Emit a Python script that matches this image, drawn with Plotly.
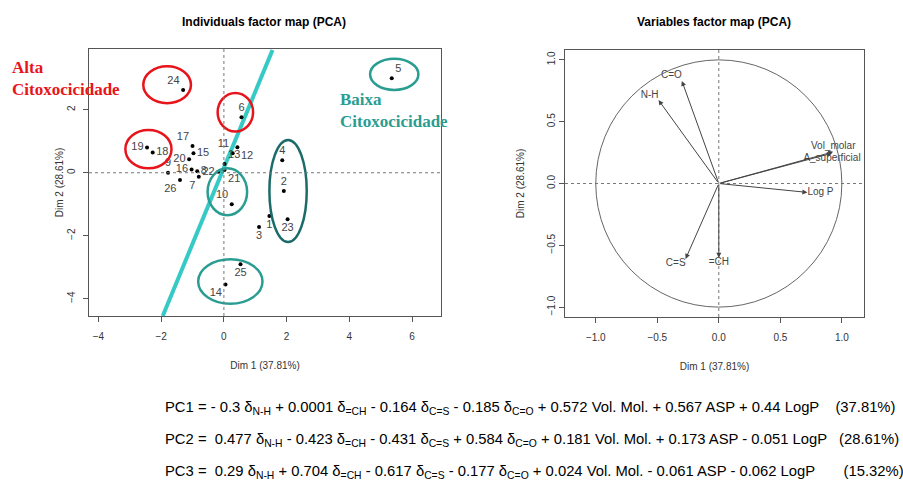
import plotly.graph_objects as go

# ---------------- data ----------------
ind_labels = ["1", "2", "3", "4", "5", "6", "7", "8", "9", "10", "11", "12", "13",
              "14", "15", "16", "17", "18", "19", "20", "21", "22", "23", "24", "25", "26"]
ind_dim1 = [1.45, 1.91, 1.12, 1.86, 5.35, 0.56, -0.80, -0.85, -1.78, 0.25, 0.28, 0.43, 0.02,
            0.05, -0.97, -1.03, -1.00, -2.27, -2.45, -1.11, 0.02, -0.18, 2.03, -1.30, 0.53, -1.40]
ind_dim2 = [-1.37, -0.58, -1.72, 0.40, 3.00, 1.76, -0.13, 0.05, 0.00, -1.00, 0.62, 0.81, 0.28,
            -3.55, 0.62, 0.10, 0.85, 0.64, 0.80, 0.43, 0.09, 0.03, -1.48, 2.63, -2.91, -0.23]

var_labels = ["N-H", "=CH", "C=S", "C=O", "Vol_molar", "A_superficial", "Log P"]
var_dim1 = [-0.49, 0.00, -0.27, -0.30, 0.93, 0.92, 0.72]
var_dim2 = [0.675, -0.60, -0.61, 0.83, 0.256, 0.245, -0.072]

x_ticks_ind = [-4, -2, 0, 2, 4, 6]
y_ticks_ind = [-4, -2, 0, 2]
ticks_var = [-1.0, -0.5, 0.0, 0.5, 1.0]

equations = [
    "PC1 = - 0.3 δ<sub>N-H</sub> + 0.0001 δ<sub>=CH</sub> - 0.164 δ<sub>C=S</sub> - 0.185 δ<sub>C=O</sub> + 0.572 Vol. Mol. + 0.567 ASP + 0.44 LogP    (37.81%)",
    "PC2 =  0.477 δ<sub>N-H</sub> - 0.423 δ<sub>=CH</sub> - 0.431 δ<sub>C=S</sub> + 0.584 δ<sub>C=O</sub> + 0.181 Vol. Mol. + 0.173 ASP - 0.051 LogP   (28.61%)",
    "PC3 =  0.29 δ<sub>N-H</sub> + 0.704 δ<sub>=CH</sub> - 0.617 δ<sub>C=S</sub> - 0.177 δ<sub>C=O</sub> + 0.024 Vol. Mol. - 0.061 ASP - 0.062 LogP       (15.32%)",
]

# highlight ellipses (dim1 min, dim1 max, dim2 min, dim2 max)
red_groups = [(-2.57, -1.05, 2.21, 3.38), (-0.20, 0.93, 1.31, 2.53), (-3.14, -1.67, 0.14, 1.36)]
teal_groups = [(4.66, 6.20, 2.63, 3.62), (-0.52, 0.74, -1.35, 0.14), (-0.82, 1.23, -4.16, -2.75)]
dark_groups = [(1.45, 2.64, -2.20, 1.04)]
sep_line_x = [-1.95, 1.55]
sep_line_y = [-4.55, 3.90]

# ---------------- styles ----------------
ind_textpos = ["bottom center", "top center", "bottom center", "top center", "top right", "top center",
               "bottom left", "middle right", "top center", "top left", "top left", "bottom right", "top right",
               "bottom left", "middle right", "middle left", "top left", "middle right", "middle left",
               "middle left", "bottom right", "middle left", "bottom center", "top left", "bottom center", "bottom left"]
var_textpos = ["top left", "bottom center", "bottom left", "top left", "top center", "bottom center", "middle right"]

RED = "#e8141b"
TEAL = "#2a9d92"
DARK = "#1b6c69"
CYAN = "#36c9c6"

fig = go.Figure()

fig.add_trace(go.Scatter(x=sep_line_x, y=sep_line_y, mode="lines",
                         line=dict(color=CYAN, width=4), xaxis="x", yaxis="y", hoverinfo="skip"))
fig.add_trace(go.Scatter(x=ind_dim1, y=ind_dim2, mode="markers+text", text=ind_labels,
                         textposition=ind_textpos, textfont=dict(family="Liberation Sans", size=11, color="#444"),
                         marker=dict(color="black", size=4), xaxis="x", yaxis="y", cliponaxis=False))

fig.add_trace(go.Scatter(x=var_dim1, y=var_dim2, mode="text", text=var_labels,
                         textposition=var_textpos, textfont=dict(family="Liberation Sans", size=10, color="#444"),
                         xaxis="x2", yaxis="y2"))

shapes = []
for g in red_groups:
    shapes.append(dict(type="circle", xref="x", yref="y", x0=g[0], x1=g[1], y0=g[2], y1=g[3],
                       line=dict(color=RED, width=2.5)))
for g in teal_groups:
    shapes.append(dict(type="circle", xref="x", yref="y", x0=g[0], x1=g[1], y0=g[2], y1=g[3],
                       line=dict(color=TEAL, width=2.5)))
for g in dark_groups:
    shapes.append(dict(type="circle", xref="x", yref="y", x0=g[0], x1=g[1], y0=g[2], y1=g[3],
                       line=dict(color=DARK, width=2.5)))
shapes += [
    dict(type="line", xref="x domain", yref="y", x0=0, x1=1, y0=0, y1=0, line=dict(color="#777", width=1, dash="dot")),
    dict(type="line", xref="x", yref="y domain", x0=0, x1=0, y0=0, y1=1, line=dict(color="#777", width=1, dash="dot")),
    dict(type="line", xref="x2 domain", yref="y2", x0=0, x1=1, y0=0, y1=0, line=dict(color="#777", width=1, dash="dot")),
    dict(type="line", xref="x2", yref="y2 domain", x0=0, x1=0, y0=0, y1=1, line=dict(color="#777", width=1, dash="dot")),
    dict(type="circle", xref="x2", yref="y2", x0=-1, x1=1, y0=-1, y1=1, line=dict(color="#666", width=1)),
]

annotations = []
for vx, vy in zip(var_dim1, var_dim2):
    annotations.append(dict(x=vx, y=vy, ax=0, ay=0, xref="x2", yref="y2", axref="x2", ayref="y2",
                            text="", showarrow=True, arrowhead=2, arrowsize=1, arrowwidth=1, arrowcolor="#444"))

annotations += [
    dict(text="<b>Individuals factor map (PCA)</b>", x=264 / 903, y=1 - 22 / 484, xref="paper", yref="paper",
         xanchor="center", yanchor="middle",
         showarrow=False, font=dict(family="Liberation Sans", size=12, color="black")),
    dict(text="<b>Variables factor map (PCA)</b>", x=714 / 903, y=1 - 22 / 484, xref="paper", yref="paper",
         xanchor="center", yanchor="middle",
         showarrow=False, font=dict(family="Liberation Sans", size=12, color="black")),
    dict(text="<b>Alta<br>Citoxocicidade</b>", x=10 / 903, y=1 - 56 / 484, xref="paper", yref="paper",
         xanchor="left", yanchor="top", align="left", showarrow=False,
         font=dict(family="Liberation Serif", size=17, color=RED)),
    dict(text="<b>Baixa<br>Citoxocicidade</b>", x=338 / 903, y=1 - 88 / 484, xref="paper", yref="paper",
         xanchor="left", yanchor="top", align="left", showarrow=False,
         font=dict(family="Liberation Serif", size=17, color=TEAL)),
]
for i, eq in enumerate(equations):
    annotations.append(dict(text=eq, x=163 / 903, y=1 - (408 + 32 * i) / 484, xref="paper", yref="paper",
                            xanchor="left", yanchor="middle", showarrow=False,
                            font=dict(family="Liberation Sans", size=14.8, color="black")))

axis_common = dict(showgrid=False, zeroline=False, showline=True, mirror=True, linecolor="#555", linewidth=1,
                   ticks="outside", ticklen=5, tickcolor="#555", automargin=False,
                   tickfont=dict(family="Liberation Sans", size=10, color="#333"),
                   title_font=dict(family="Liberation Sans", size=10, color="#333"))

fig.update_layout(
    width=903, height=484, margin=dict(l=0, r=0, t=0, b=0),
    paper_bgcolor="white", plot_bgcolor="white", showlegend=False,
    shapes=shapes, annotations=annotations,
    xaxis=dict(domain=[89 / 903, 441 / 903], range=[-4.30, 6.92], tickvals=x_ticks_ind, ticklabelstandoff=6,
               title=dict(text="Dim 1 (37.81%)", standoff=20), anchor="y", **axis_common),
    yaxis=dict(domain=[1 - 316 / 484, 1 - 49 / 484], range=[-4.55, 3.93], tickvals=y_ticks_ind, tickangle=-90,
               ticklabelstandoff=4,
               title=dict(text="Dim 2 (28.61%)", standoff=0), anchor="x", **axis_common),
    xaxis2=dict(domain=[565 / 903, 864 / 903], range=[-1.25, 1.18], tickvals=ticks_var, tickformat=".1f",
                ticklabelstandoff=6,
                title=dict(text="Dim 1 (37.81%)", standoff=20), anchor="y2", **axis_common),
    yaxis2=dict(domain=[1 - 317 / 484, 1 - 50 / 484], range=[-1.08, 1.08], tickvals=ticks_var, tickformat=".1f",
                tickangle=-90, title=dict(text="Dim 2 (28.61%)", standoff=19), anchor="x2", **axis_common),
)

fig.write_html("out.html", config={"displayModeBar": False},
               post_script="document.body.style.margin='0';document.body.style.overflow='hidden';")
